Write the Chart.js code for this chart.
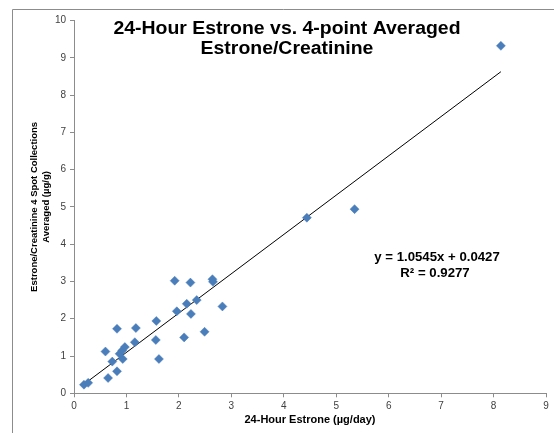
<!DOCTYPE html>
<html>
<head>
<meta charset="utf-8">
<script src="https://cdn.jsdelivr.net/npm/chart.js@4"></script>
<style>
    html, body { margin: 0; padding: 0; background: #fff; }
    #wrap { width: 554px; height: 433px; position: relative; }
</style>
</head>
<body>
<div id="wrap"><canvas id="estroneChart" width="554" height="433"></canvas></div>
<script>
// Data
const estrone24h = [0.19, 0.27, 0.60, 0.65, 0.73, 0.82, 0.82, 0.87, 0.93, 0.92, 0.97, 1.16, 1.18,
    1.57, 1.56, 1.62, 1.92, 1.96, 2.10, 2.15, 2.22, 2.23, 2.34, 2.49, 2.64, 2.65, 2.83, 4.44, 5.35, 8.14];
const estroneCreatAvg = [0.23, 0.28, 1.12, 0.41, 0.85, 1.73, 0.59, 1.06, 0.92, 1.15, 1.24, 1.37, 1.75,
    1.94, 1.43, 0.92, 3.02, 2.20, 1.50, 2.40, 2.97, 2.13, 2.50, 1.65, 3.06, 2.99, 2.33, 4.71, 4.94, 9.32];
const xTicks = [0, 1, 2, 3, 4, 5, 6, 7, 8, 9];
const yTicks = [0, 1, 2, 3, 4, 5, 6, 7, 8, 9, 10];
const trendSlope = 1.0545;
const trendIntercept = 0.0427;
const trendLabel = ['y = 1.0545x + 0.0427', 'R² = 0.9277'];
const chartTitle = ['24-Hour Estrone vs. 4-point Averaged', 'Estrone/Creatinine'];

const FONT = "'Liberation Sans', Arial, sans-serif";

const points = estrone24h.map((x, i) => ({ x: x, y: estroneCreatAvg[i] }));
const xMin = Math.min(...estrone24h);
const xMax = Math.max(...estrone24h);
const trendPoints = [xMin, xMax].map(x => ({ x: x, y: trendSlope * x + trendIntercept }));

// the original text looks a bit wider than it is tall
function wideText(ctx, text, x, y, stretch) {
    ctx.save();
    ctx.translate(x, y);
    ctx.scale(stretch, 1);
    ctx.fillText(text, 0, 0);
    ctx.restore();
}

// Frame, title and trend label drawn on top of the chart
const decorPlugin = {
    id: 'decor',
    afterDraw(chart) {
        const ctx = chart.ctx;
        ctx.save();
        ctx.strokeStyle = '#8c8c8c';
        ctx.lineWidth = 1;
        ctx.beginPath();
        ctx.moveTo(12.5, 433);
        ctx.lineTo(12.5, 9.5);
        ctx.lineTo(554, 9.5);
        ctx.stroke();

        ctx.fillStyle = '#000';
        ctx.textAlign = 'center';
        ctx.textBaseline = 'middle';
        ctx.font = 'bold 18px ' + FONT;
        wideText(ctx, chartTitle[0], 287, 29, 1.08);
        wideText(ctx, chartTitle[1], 287, 49, 1.08);

        ctx.font = 'bold 12px ' + FONT;
        wideText(ctx, trendLabel[0], 437, 258, 1.1);
        wideText(ctx, trendLabel[1], 435, 274, 1.1);
        ctx.restore();
    }
};

const ctx = document.getElementById('estroneChart').getContext('2d');
const estroneChart = new Chart(ctx, {
    type: 'scatter',
    data: {
        datasets: [{
            label: 'Estrone',
            data: points,
            pointStyle: 'rectRot',
            pointRadius: 4.5,
            backgroundColor: '#4a7ebb',
            borderColor: '#4a7ebb',
            borderWidth: 0.5
        }, {
            type: 'line',
            label: 'Linear',
            data: trendPoints,
            borderColor: '#000',
            borderWidth: 1,
            pointRadius: 0,
            fill: false
        }]
    },
    options: {
        responsive: false,
        animation: false,
        devicePixelRatio: 1,
        layout: { padding: { left: 0, right: 8, top: 20.5, bottom: 0 } },
        plugins: {
            legend: { display: false },
            tooltip: { enabled: false }
        },
        scales: {
            x: {
                type: 'linear',
                min: 0,
                max: 9,
                afterBuildTicks: s => { s.ticks = xTicks.map(v => ({ value: v })); },
                afterFit: s => { s.height = 39.7; },
                grid: { drawOnChartArea: false, drawTicks: true, tickLength: 4, color: '#8c8c8c' },
                border: { color: '#8c8c8c' },
                ticks: { padding: 3, color: '#404040', font: { family: FONT, size: 10 }, maxRotation: 0 },
                title: {
                    display: true,
                    text: '24-Hour Estrone (µg/day)',
                    color: '#000',
                    font: { family: FONT, size: 11, weight: 'bold' },
                    padding: { top: 0, bottom: 6 }
                }
            },
            y: {
                type: 'linear',
                min: 0,
                max: 10,
                afterBuildTicks: s => { s.ticks = yTicks.map(v => ({ value: v })); },
                afterFit: s => { s.width = 74; },
                grid: { drawOnChartArea: false, drawTicks: true, tickLength: 4, color: '#8c8c8c' },
                border: { color: '#8c8c8c' },
                ticks: { padding: 4, color: '#404040', font: { family: FONT, size: 10 } },
                title: {
                    display: true,
                    text: ['Estrone/Creatinine 4 Spot Collections', 'Averaged (µg/g)'],
                    color: '#000',
                    font: { family: FONT, size: 9.5, weight: 'bold' },
                    padding: { top: 29, bottom: 0 }
                }
            }
        }
    },
    plugins: [decorPlugin]
});
</script>
</body>
</html>
